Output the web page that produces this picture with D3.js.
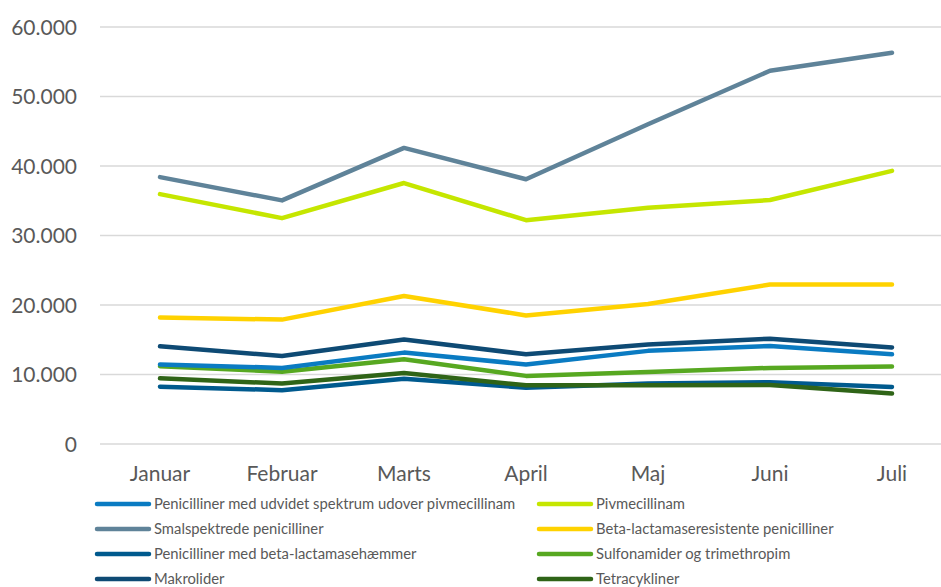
<!DOCTYPE html>
<html><head>
<meta charset="utf-8">
<script src="https://d3js.org/d3.v7.min.js"></script>
<style>
  body { margin: 0; background: #fff; }
  text { font-family: Lato, "Open Sans", sans-serif; }
</style>
</head>
<body>
<svg id="chart" width="941" height="587"></svg>
<script>
const months = ["Januar", "Februar", "Marts", "April", "Maj", "Juni", "Juli"];
const yTicks = [0, 10000, 20000, 30000, 40000, 50000, 60000];

const names = [
  "Penicilliner med udvidet spektrum udover pivmecillinam",
  "Pivmecillinam",
  "Smalspektrede penicilliner",
  "Beta-lactamaseresistente penicilliner",
  "Penicilliner med beta-lactamasehæmmer",
  "Sulfonamider og trimethropim",
  "Makrolider",
  "Tetracykliner"
];
const colors = ["#0a7bc2", "#c5e600", "#5f8399", "#ffd200", "#005a8e", "#57a821", "#0e4a74", "#2f6417"];

const udvidet      = [11450, 10950, 13150, 11450, 13400, 14100, 12900];
const pivmecillinam = [35950, 32500, 37550, 32200, 34000, 35100, 39300];
const smalspektrede = [38400, 35050, 42600, 38100, 46000, 53700, 56300];
const betaResist   = [18200, 17900, 21300, 18500, 20150, 22950, 22950];
const betaHaemmer  = [8250, 7750, 9400, 8100, 8700, 8900, 8200];
const sulfonamider = [11200, 10400, 12200, 9800, 10350, 10950, 11150];
const makrolider   = [14050, 12650, 15050, 12900, 14300, 15150, 13900];
const tetracykliner = [9450, 8700, 10200, 8450, 8450, 8500, 7250];

const series = [udvidet, pivmecillinam, smalspektrede, betaResist,
                betaHaemmer, sulfonamider, makrolider, tetracykliner];

const svg = d3.select("#chart");

const x = d3.scalePoint().domain(months).range([160, 892]);
const y = d3.scaleLinear().domain([0, 60000]).range([444, 27]);

// gridlines
svg.append("g").selectAll("line").data(yTicks).join("line")
  .attr("x1", 100).attr("x2", 941)
  .attr("y1", d => y(d)).attr("y2", d => y(d))
  .attr("stroke", "#d9d9d9").attr("stroke-width", 1.3);

// y labels
svg.append("g").selectAll("text").data(yTicks).join("text")
  .attr("x", 77).attr("y", d => y(d)).attr("dy", "0.36em")
  .attr("text-anchor", "end")
  .attr("font-size", 21).attr("fill", "#595959")
  .text(d => d3.format(",")(d).replace(/,/g, "."));

// x labels
svg.append("g").selectAll("text").data(months).join("text")
  .attr("x", d => x(d)).attr("y", 481)
  .attr("text-anchor", "middle")
  .attr("font-size", 21).attr("fill", "#595959")
  .text(d => d);

// lines (upper series drawn on top like the reference)
const line = d3.line().x((d, i) => x(months[i])).y(d => y(d));
const order = [4, 7, 5, 0, 6, 3, 1, 2];
svg.append("g").selectAll("path").data(order).join("path")
  .attr("d", k => line(series[k]))
  .attr("fill", "none")
  .attr("stroke", k => colors[k])
  .attr("stroke-width", 4.5)
  .attr("stroke-linecap", "round")
  .attr("stroke-linejoin", "round");

// legend
const legend = svg.append("g").selectAll("g").data(names).join("g")
  .attr("transform", (d, i) => `translate(${i % 2 ? 537 : 95},${504 + Math.floor(i / 2) * 25})`);
legend.append("line")
  .attr("x1", 2).attr("x2", 54).attr("y1", 0).attr("y2", 0)
  .attr("stroke", (d, i) => colors[i]).attr("stroke-width", 4.5)
  .attr("stroke-linecap", "round");
legend.append("text")
  .attr("x", 59).attr("y", 0).attr("dy", "0.35em")
  .attr("font-size", 14.8).attr("fill", "#595959")
  .text(d => d);
</script>
</body>
</html>
